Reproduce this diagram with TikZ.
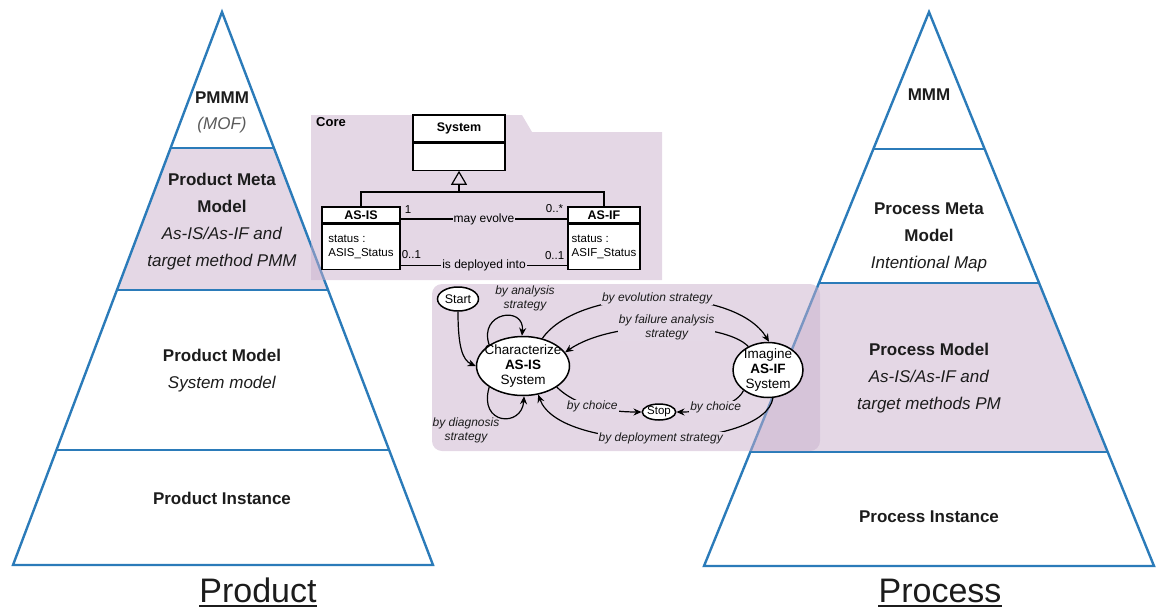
\documentclass[tikz,border=0pt]{standalone}
\usepackage{fontspec}
\setmainfont{Liberation Sans}
\usetikzlibrary{arrows.meta,positioning,calc,shapes.geometric}
\definecolor{pyrbleu}{HTML}{2B7BB9}
\definecolor{lila}{HTML}{C9B0CC}
\definecolor{lilafond}{RGB}{228,216,230}
\definecolor{encre}{HTML}{1C1C1C}
\definecolor{grismof}{HTML}{5A5A5A}

\begin{document}
\begin{tikzpicture}[x=1pt,y=-1pt,font=\fontsize{17}{27}\selectfont,
  pyr/.style={pyrbleu,line width=2.4pt},
  zone/.style={fill=lila,fill opacity=0.5,draw=none},
  lvl/.style={align=center,text=encre,inner sep=0pt},
  titre/.style={text=encre,inner sep=0pt,anchor=base,font=\fontsize{34}{36}\selectfont},
  uml/.style={draw=black,line width=1.2pt,fill=white,inner sep=0pt,font=\fontsize{11.5}{14}\selectfont},
  umlnom/.style={uml,font=\fontsize{12.5}{14}\selectfont\bfseries},
  lien/.style={line width=1.2pt},
  mult/.style={inner sep=1pt,font=\fontsize{11.5}{12}\selectfont},
  etat/.style={ellipse,draw=black,line width=1.5pt,fill=white,inner sep=0pt},
  etxt/.style={align=center,inner sep=0pt,font=\fontsize{13.5}{15}\selectfont},
  fl/.style={line width=1.2pt,-{Stealth[length=8pt,width=7pt]}},
  strat/.style={align=center,inner sep=1pt,text=encre,font=\fontsize{12}{13.5}\selectfont\itshape}]
  \useasboundingbox (0,0) rectangle (1157,608);

  % pyramide produit
  \fill[zone] (170.4,148) -- (273.6,148) -- (327.6,290) -- (116.4,290) -- cycle;
  \draw[pyr] (222,12) -- (433,565) -- (13,565) -- cycle;
  \foreach \ya/\xa/\xb in {148/170.4/273.6, 290/116.4/327.6, 450/55.7/388.3}
    \draw[pyr] (\xa,\ya) -- (\xb,\ya);
  \node[lvl,font=\fontsize{17}{26}\selectfont] (pmmm) at (222,112.5) {\textbf{PMMM}\\\textcolor{grismof}{\textit{(MOF)}}};
  \node[lvl] (ppm) at (222,221.5) {\textbf{Product Meta}\\\textbf{Model}\\\textit{As-IS/As-IF and}\\\textit{target method PMM}};
  \node[lvl] (pm) at (222,370.5) {\textbf{Product Model}\\\textit{System model}};
  \node[lvl] (pi) at (222,498) {\textbf{Product Instance}};
  \node[titre] (prod) at (258,602) {Product};
  \draw[encre,line width=1.6pt] ($(prod.base west)+(0,4)$) -- ($(prod.base east)+(0,4)$);

  % pyramide processus
  \fill[zone] (818.9,283) -- (1039.1,283) -- (1107.7,452) -- (750.3,452) -- cycle;
  \draw[pyr] (929,12) -- (1154,566) -- (704,566) -- cycle;
  \foreach \ya/\xa/\xb in {149/873.4/984.6, 283/818.9/1039.1, 452/750.3/1107.7}
    \draw[pyr] (\xa,\ya) -- (\xb,\ya);
  \node[lvl] (mmm) at (929,95) {\textbf{MMM}};
  \node[lvl] (prmm) at (929,237) {\textbf{Process Meta}\\\textbf{Model}\\\textit{Intentional Map}};
  \node[lvl] (prm) at (929,378) {\textbf{Process Model}\\\textit{As-IS/As-IF and}\\\textit{target methods PM}};
  \node[lvl] (pri) at (929,517) {\textbf{Process Instance}};
  \node[titre] (proc) at (940,602) {Process};
  \draw[encre,line width=1.6pt] ($(proc.base west)+(0,4)$) -- ($(proc.base east)+(0,4)$);

  % paquetage Core
  \fill[zone] (311,115) -- (522,115) -- (532,132) -- (662,132) -- (662,280) -- (311,280) -- cycle;
  \node[anchor=north west,inner sep=0pt,font=\fontsize{13}{14}\selectfont\bfseries] (core) at (316,117) {Core};
  \node[umlnom,minimum width=92pt,minimum height=27pt] (sys) at (459,128.5) {System};
  \node[uml,minimum width=92pt,minimum height=27pt,below=0pt of sys] (sysb) {};
  \node[umlnom,minimum width=78pt,minimum height=16pt] (asis) at (361,215) {AS-IS};
  \node[uml,minimum width=78pt,minimum height=45pt,align=left,below=0pt of asis] (asisb) {status :\\ASIS\_Status};
  \node[umlnom,minimum width=72pt,minimum height=16pt] (asif) at (604,215) {AS-IF};
  \node[uml,minimum width=72pt,minimum height=45pt,align=left,below=0pt of asif] (asifb) {status :\\ASIF\_Status};
  \coordinate (gen) at (459,192);
  \draw[lien] (asis.north) |- (gen) -| (asif.north);
  \draw[lien,-{Triangle[open,length=14pt,width=16pt,line width=1.2pt]}] (gen) -- (sysb.south);
  \draw[lien] ($(asis.east)+(0,4)$) -- node[fill=lilafond,inner sep=1pt,font=\fontsize{12}{13}\selectfont] (evo) {may evolve} ($(asif.west)+(0,4)$);
  \draw[lien] ($(asisb.south east)+(0,-4)$) -- node[fill=lilafond,inner sep=1pt,font=\fontsize{12}{13}\selectfont] (dep) {is deployed into} ($(asifb.south west)+(0,-4)$);
  \node[mult,anchor=west] (m1) at ($(asis.north east)+(3,3)$) {1};
  \node[mult,anchor=east] (m2) at ($(asif.north west)+(-3,2)$) {0..*};
  \node[mult,anchor=west] (m3) at ($(asisb.east)+(0,7.5)$) {0..1};
  \node[mult,anchor=east] (m4) at ($(asifb.west)+(-2,8.5)$) {0..1};

  % carte intentionnelle
  \fill[zone,rounded corners=10pt] (432,284) rectangle (820,451);
  \node[etat,minimum width=41pt,minimum height=24pt,font=\fontsize{12.5}{14}\selectfont] (start) at (458,299) {Start};
  \node[etat,minimum width=93pt,minimum height=59pt,label={[etxt]center:{Characterize\\\textbf{AS-IS}\\System}}] (chr) at (523,366) {};
  \node[etat,minimum width=70pt,minimum height=55pt,label={[etxt]center:{Imagine\\\textbf{AS-IF}\\System}}] (img) at (768,370) {};
  \node[etat,minimum width=32pt,minimum height=16pt,font=\fontsize{11.5}{13}\selectfont] (stop) at (659,412) {Stop};

  \draw[fl] (start.south) .. controls (458,345) and (462,360) .. (chr.west);
  \draw[fl] (chr.148) .. controls (478,312) and (525,305) .. (chr.92);
  \draw[fl] (chr.212) .. controls (478,425) and (522,428) .. (chr.-88);
  \draw[fl] (chr.55) .. controls (580,285) and (735,285) .. node[strat,fill=lilafond] (levo) {by evolution strategy} (img.88);
  \draw[fl] (img.130) .. controls (725,322) and (615,318) .. node[strat,fill=lilafond] (lfail) {by failure analysis\\strategy} (chr.18);
  \draw[fl] (chr.-32) .. controls (575,405) and (605,412) .. node[strat,fill=lilafond] (lch1) {by choice} (stop.west);
  \draw[fl] (img.-140) .. controls (735,408) and (700,412) .. node[strat,fill=lilafond] (lch2) {by choice} (stop.east);
  \draw[fl] (img.-80) .. controls (765,450) and (560,455) .. node[strat,fill=lilafond] (ldep) {by deployment strategy} (chr.-62);
  \node[strat] (lana) at (525,298.5) {by analysis\\strategy};
  \node[strat] (ldia) at (466,430.5) {by diagnosis\\strategy};
\end{tikzpicture}
\end{document}
